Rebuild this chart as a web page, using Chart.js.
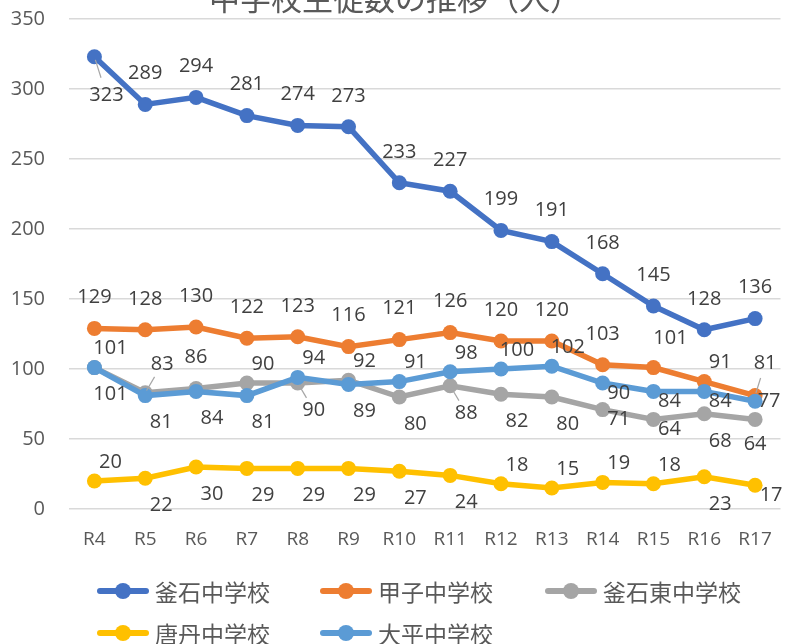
<!DOCTYPE html>
<html>
<head>
<meta charset="utf-8">
<script src="https://cdn.jsdelivr.net/npm/chart.js@4.4.1/dist/chart.umd.min.js"></script>
<style>
  html, body { margin: 0; padding: 0; background: #fff; }
  #wrap { position: relative; width: 788px; height: 644px; overflow: hidden; }
  #chart { position: absolute; left: 0; top: 0; }
  .legend-item {
    position: absolute; display: flex; align-items: center;
    font-family: "Noto Sans CJK JP", "Noto Sans", sans-serif;
    font-size: 23px; color: #595959; white-space: nowrap; line-height: 1;
  }
  .legend-mark { position: relative; width: 52px; height: 16px; margin-right: 6px; flex: none; }
  .legend-mark .ln { position: absolute; left: 0; top: 5px; width: 52px; height: 6px; border-radius: 3px; }
  .legend-mark .dot { position: absolute; left: 18px; top: 0; width: 16px; height: 16px; border-radius: 50%; }
</style>
</head>
<body>
<div id="wrap">
  <canvas id="chart" width="788" height="644"></canvas>
  <div id="legend"></div>
</div>
<script>
// データ
const categories = ['R4', 'R5', 'R6', 'R7', 'R8', 'R9', 'R10', 'R11', 'R12', 'R13', 'R14', 'R15', 'R16', 'R17']
const kamaishi        = [323, 289, 294, 281, 274, 273, 233, 227, 199, 191, 168, 145, 128, 136]
const kasshi          = [129, 128, 130, 122, 123, 116, 121, 126, 120, 120, 103, 101, 91, 81]
const kamaishiHigashi = [101, 83, 86, 90, 90, 92, 80, 88, 82, 80, 71, 64, 68, 64]
const toni            = [20, 22, 30, 29, 29, 29, 27, 24, 18, 15, 19, 18, 23, 17]
const ohira           = [101, 81, 84, 81, 94, 89, 91, 98, 100, 102, 90, 84, 84, 77]
const yTickValues     = [0, 50, 100, 150, 200, 250, 300, 350]
const chartTitle = '中学校生徒数の推移（人）'

// ラベルの置き方（* は引き出し線あり）
const kamaishiLbl = ['bl*', 't', 't', 't', 't', 't', 't', 't', 't', 't', 't', 't', 't', 't']
const kasshiLbl   = ['t', 't', 't', 't', 't', 't', 't', 't', 't', 't', 't', 'tr', 'ur', 'tx*']
const higashiLbl  = ['br', 'tr*', 't', 'ur', 'br*', 'ur', 'br', 'br*', 'br', 'br', 'r', 'r', 'br', 'b']
const toniLbl     = ['ur', 'br', 'br', 'br', 'br', 'br', 'br', 'br', 'ur', 'ur', 'ur', 'ur', 'br', 'r']
const ohiraLbl    = ['ur', 'br', 'br', 'br', 'ur', 'br', 'ur', 'ur', 'ur', 'ur', 'r', 'r', 'r', 'm']

const LABEL_OFFSET = {
  t: [0, -31], tr: [17, -29], tx: [10, -32], ur: [16, -19], r: [16, 10],
  m: [14, 0], br: [16, 27], b: [0, 25], bl: [12, 38]
}

const series = [
  { name: '釜石中学校',   data: kamaishi,        color: '#4472C4', lbl: kamaishiLbl, order: 5 },
  { name: '甲子中学校',   data: kasshi,          color: '#ED7D31', lbl: kasshiLbl,   order: 4 },
  { name: '釜石東中学校', data: kamaishiHigashi, color: '#A5A5A5', lbl: higashiLbl,  order: 3 },
  { name: '唐丹中学校',   data: toni,            color: '#FFC000', lbl: toniLbl,     order: 2 },
  { name: '大平中学校',   data: ohira,           color: '#5B9BD5', lbl: ohiraLbl,    order: 1 }
]

const titlePlugin = {
  id: 'cutTitle',
  afterDraw(chart) {
    const ctx = chart.ctx
    ctx.save()
    ctx.font = '31px "Noto Sans CJK JP"'
    ctx.fillStyle = '#595959'
    ctx.textAlign = 'center'
    ctx.textBaseline = 'alphabetic'
    ctx.fillText(chartTitle, 395, 10)
    ctx.restore()
  }
}

const labelPlugin = {
  id: 'pointLabels',
  afterDatasetsDraw(chart) {
    const ctx = chart.ctx
    ctx.save()
    ctx.font = '20px "Open Sans"'
    ctx.fillStyle = '#404040'
    ctx.textAlign = 'center'
    ctx.textBaseline = 'middle'
    chart.data.datasets.forEach((ds, i) => {
      const meta = chart.getDatasetMeta(i)
      meta.data.forEach((pt, j) => {
        let code = ds.lbl[j]
        const leader = code.endsWith('*')
        if (leader) code = code.slice(0, -1)
        const [dx, dy] = LABEL_OFFSET[code]
        const lx = pt.x + dx
        const ly = pt.y + dy
        if (leader) {
          ctx.strokeStyle = '#A6A6A6'
          ctx.lineWidth = 1.2
          ctx.beginPath()
          ctx.moveTo(pt.x + dx * 0.08, pt.y + dy * 0.08)
          ctx.lineTo(pt.x + dx * 0.55, pt.y + dy * 0.55)
          ctx.stroke()
        }
        ctx.fillText(String(ds.data[j]), lx, ly)
      })
    })
    ctx.restore()
  }
}

new Chart(document.getElementById('chart'), {
  type: 'line',
  data: {
    labels: categories,
    datasets: series.map(s => ({
      label: s.name,
      data: s.data,
      lbl: s.lbl,
      order: s.order,
      borderColor: s.color,
      backgroundColor: s.color,
      pointBackgroundColor: s.color,
      pointBorderColor: s.color,
      borderWidth: 5.5,
      pointRadius: 7.5,
      pointBorderWidth: 0,
      tension: 0,
      fill: false
    }))
  },
  options: {
    responsive: false,
    animation: false,
    layout: { padding: { top: 19, right: 0, bottom: 85, left: 0 } },
    scales: {
      x: {
        offset: true,
        grid: { display: false, drawTicks: false },
        border: { display: false },
        ticks: { color: '#595959', font: { family: 'Open Sans', size: 19 }, padding: 19, maxRotation: 0, autoSkip: false },
        afterFit: (scale) => { scale.height = 50; scale.paddingLeft = 0; scale.paddingRight = 0 }
      },
      y: {
        min: 0,
        max: 350,
        afterBuildTicks: (scale) => { scale.ticks = yTickValues.map(v => ({ value: v })) },
        grid: { color: '#D9D9D9', lineWidth: 1.5, drawTicks: false },
        border: { display: false },
        ticks: { color: '#595959', font: { family: 'Open Sans', size: 20 }, padding: 24 },
        afterFit: (scale) => { scale.width = 69; scale.paddingTop = 0; scale.paddingBottom = 0 }
      }
    },
    plugins: {
      legend: { display: false },
      tooltip: { enabled: false },
      title: { display: false }
    }
  },
  plugins: [titlePlugin, labelPlugin]
})

// 凡例（Excel風に列をそろえる）
const legendPos = [[97, 591], [320, 591], [545, 591], [97, 633], [320, 633]]
const legendEl = document.getElementById('legend')
series.forEach((s, i) => {
  const item = document.createElement('div')
  item.className = 'legend-item'
  item.style.left = legendPos[i][0] + 'px'
  item.style.top = (legendPos[i][1] - 14) + 'px'
  item.style.height = '28px'
  item.innerHTML = `<span class="legend-mark"><span class="ln" style="background:${s.color}"></span><span class="dot" style="background:${s.color}"></span></span><span>${s.name}</span>`
  legendEl.appendChild(item)
})
</script>
</body>
</html>
